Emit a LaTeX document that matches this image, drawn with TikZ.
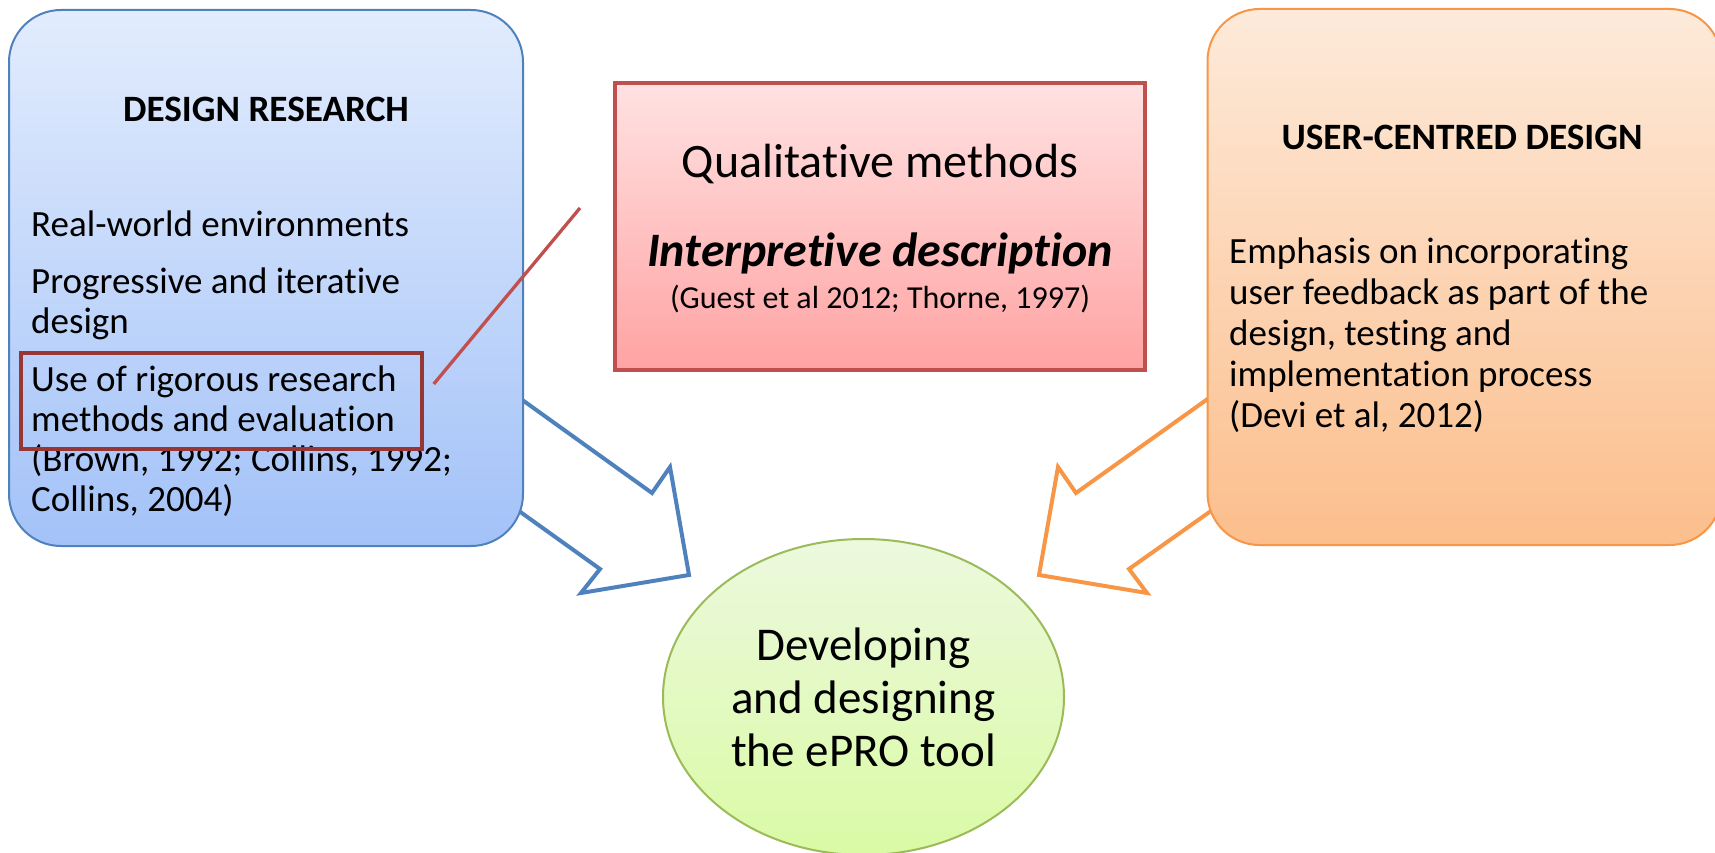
\documentclass[tikz,border=0pt]{standalone}
\usepackage{fontspec}
\setmainfont{Carlito}[Ligatures=NoCommon]
\usepackage{xcolor}
\usetikzlibrary{shapes.geometric, backgrounds}

\definecolor{drblue}{RGB}{79,129,189}
\definecolor{drtop}{RGB}{226,236,253}
\definecolor{drbot}{RGB}{163,194,248}
\definecolor{qmred}{RGB}{192,80,77}
\definecolor{qmtop}{RGB}{255,226,226}
\definecolor{qmbot}{RGB}{255,163,163}
\definecolor{hlred}{RGB}{150,55,53}
\definecolor{ucorange}{RGB}{247,150,70}
\definecolor{uctop}{RGB}{253,234,218}
\definecolor{ucbot}{RGB}{252,190,140}
\definecolor{epgreen}{RGB}{155,187,89}
\definecolor{eptop}{RGB}{236,249,222}
\definecolor{epbot}{RGB}{218,250,165}

\begin{document}
\begin{tikzpicture}[
  x=1pt, y=-1pt,
  bigbox/.style={rectangle, rounded corners=52pt, line width=2pt,
              minimum width=514pt, minimum height=536pt, inner sep=0pt},
  headtxt/.style={font=\fontsize{37.2}{40}\selectfont\bfseries, inner sep=0pt, anchor=base},
  bodytxt/.style={font=\fontsize{37}{40}\selectfont, align=left, inner sep=0pt, anchor=base west},
  bigtxt/.style={font=\fontsize{48}{52}\selectfont, inner sep=0pt, anchor=base},
  blockarr/.style={line width=4pt, line join=miter}
]
\clip (0,0) rectangle (1715,853);

\node[bigbox, draw=drblue, top color=drtop, bottom color=drbot] (design) at (266,278) {};
\node[headtxt] (designhead) at (266,122) {DESIGN RESEARCH};
% anchor base = last line
\node[bodytxt] (designtext) at (31,511)
  {Real-world environments\\[17pt]Progressive and iterative\\design\\[18pt]Use of rigorous research\\methods and evaluation\\(Brown, 1992; Collins, 1992;\\Collins, 2004)};
\node[draw=hlred, line width=3.5pt, minimum width=401pt, minimum height=96pt, inner sep=0pt] (rigour) at (221.5,401) {};

\node[draw=qmred, line width=4pt, top color=qmtop, bottom color=qmbot,
      minimum width=530pt, minimum height=287pt, inner sep=0pt] (qual) at (880,226.5) {};
\node[bigtxt] (qualhead) at (880,178) {Qualitative methods};
\node[bigtxt, font=\fontsize{48}{52}\selectfont\bfseries\itshape] (qualsub) at (880,266) {Interpretive description};
\node[bigtxt, font=\fontsize{32}{36}\selectfont] (qualref) at (880,308) {(Guest et al 2012; Thorne, 1997)};

\node[bigbox, draw=ucorange, top color=uctop, bottom color=ucbot] (ucd) at (1464.5,277) {};
\node[headtxt] (ucdhead) at (1462,150) {USER-CENTRED DESIGN};
\node[bodytxt, font=\fontsize{37}{41}\selectfont] (ucdtext) at (1229,427)
  {Emphasis on incorporating\\user feedback as part of the\\design, testing and\\implementation process\\(Devi et al, 2012)};

\node[ellipse, draw=epgreen, line width=2pt, top color=eptop, bottom color=epbot,
      minimum width=401pt, minimum height=316pt, inner sep=0pt, align=center,
      font=\fontsize{47}{53}\selectfont] (epro) at (863.5,697) {Developing\\and designing\\the ePRO tool};

% callout from the highlighted point to the methods box
\coordinate (calloutend) at (580,208);
\draw[qmred, line width=3.3pt] ([shift={(10,-17)}]rigour.east) -- (calloutend);

% block arrows into the tool
\begin{scope}[on background layer]
\draw[blockarr, drblue] (507,389) -- (652,493) -- (670,467) -- (689,575) -- (581,593) -- (600,569) -- (505,501);
\draw[blockarr, ucorange] (1223,388) -- (1076,493) -- (1058,467) -- (1039,575) -- (1147,593) -- (1129,569) -- (1225,501);
\end{scope}

\end{tikzpicture}
\end{document}
